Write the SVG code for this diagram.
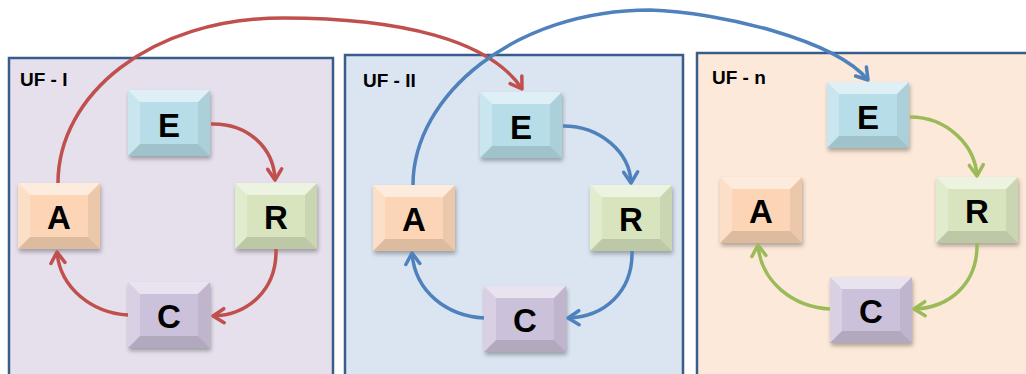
<svg xmlns="http://www.w3.org/2000/svg" xmlns:xlink="http://www.w3.org/1999/xlink" width="1026" height="374" viewBox="0 0 1026 374">
<style>
.panel{stroke:#385d8a;stroke-width:2.5}
.lbl{font-family:"Liberation Sans",Arial,sans-serif;font-weight:bold;font-size:19px;fill:#000}
.let{font-family:"Liberation Sans",Arial,sans-serif;font-weight:bold;font-size:33px;fill:#000;text-anchor:middle}
.con{fill:none;stroke-width:3.5}
.red{stroke:#c0504d}
.blue{stroke:#4f81bd}
.green{stroke:#9bbb59}
.nE{fill:#b7dee8}.nR{fill:#d7e4bd}.nC{fill:#ccc1da}.nA{fill:#fbd5b5}
</style>
<defs>
<filter id="sh" x="-20%" y="-20%" width="140%" height="150%"><feGaussianBlur stdDeviation="2"/></filter>
<g id="bevel">
<polygon points="0,0 82,0 70,12 12,12" fill="#fff" fill-opacity="0.55"/>
<polygon points="0,0 12,12 12,54 0,66" fill="#fff" fill-opacity="0.25"/>
<polygon points="82,0 82,66 70,54 70,12" fill="#000" fill-opacity="0.06"/>
<polygon points="0,66 12,54 70,54 82,66" fill="#000" fill-opacity="0.12"/>
</g>
<rect id="shadow" x="1" y="3" width="82" height="66" fill="#000" fill-opacity="0.3" filter="url(#sh)"/>
<marker id="mr" markerUnits="userSpaceOnUse" markerWidth="30" markerHeight="30" viewBox="-15 -15 30 30" refX="0" refY="0" orient="auto" overflow="visible"><path d="M-11,-7 L0,0 L-11,7" fill="none" stroke="#c0504d" stroke-width="3.5" stroke-linejoin="round" stroke-linecap="round"/></marker>
<marker id="mb" markerUnits="userSpaceOnUse" markerWidth="30" markerHeight="30" viewBox="-15 -15 30 30" refX="0" refY="0" orient="auto" overflow="visible"><path d="M-11,-7 L0,0 L-11,7" fill="none" stroke="#4f81bd" stroke-width="3.5" stroke-linejoin="round" stroke-linecap="round"/></marker>
<marker id="mg" markerUnits="userSpaceOnUse" markerWidth="30" markerHeight="30" viewBox="-15 -15 30 30" refX="0" refY="0" orient="auto" overflow="visible"><path d="M-11,-7 L0,0 L-11,7" fill="none" stroke="#9bbb59" stroke-width="3.5" stroke-linejoin="round" stroke-linecap="round"/></marker>
</defs>
<rect width="1026" height="374" fill="#fff"/>

<g id="panel-uf1"><rect class="panel" x="9" y="58" width="324" height="330" fill="#e5e0ec"/><text class="lbl" x="20" y="86">UF - I</text></g>
<g id="panel-uf2"><rect class="panel" x="345" y="55" width="338" height="330" fill="#dbe5f1"/><text class="lbl" x="363" y="87">UF - II</text></g>
<g id="panel-ufn"><rect class="panel" x="697" y="53" width="340" height="330" fill="#fde9d9"/><text class="lbl" x="712" y="84">UF - n</text></g>

<g id="uf1-E"><use href="#shadow" x="128" y="90"/><rect class="nE" x="128" y="90" width="82" height="66"/><use href="#bevel" x="128" y="90"/><text class="let" x="169" y="137">E</text></g>
<g id="uf1-R"><use href="#shadow" x="235" y="183"/><rect class="nR" x="235" y="183" width="82" height="66"/><use href="#bevel" x="235" y="183"/><text class="let" x="276" y="229">R</text></g>
<g id="uf1-C"><use href="#shadow" x="128" y="282"/><rect class="nC" x="128" y="282" width="82" height="66"/><use href="#bevel" x="128" y="282"/><text class="let" x="169" y="328">C</text></g>
<g id="uf1-A"><use href="#shadow" x="18" y="183"/><rect class="nA" x="18" y="183" width="82" height="66"/><use href="#bevel" x="18" y="183"/><text class="let" x="59" y="229">A</text></g>

<g id="uf2-E"><use href="#shadow" x="480" y="92"/><rect class="nE" x="480" y="92" width="82" height="66"/><use href="#bevel" x="480" y="92"/><text class="let" x="521" y="139">E</text></g>
<g id="uf2-R"><use href="#shadow" x="590" y="185"/><rect class="nR" x="590" y="185" width="82" height="66"/><use href="#bevel" x="590" y="185"/><text class="let" x="631" y="231">R</text></g>
<g id="uf2-C"><use href="#shadow" x="484" y="286"/><rect class="nC" x="484" y="286" width="82" height="66"/><use href="#bevel" x="484" y="286"/><text class="let" x="525" y="332">C</text></g>
<g id="uf2-A"><use href="#shadow" x="373" y="185"/><rect class="nA" x="373" y="185" width="82" height="66"/><use href="#bevel" x="373" y="185"/><text class="let" x="414" y="231">A</text></g>

<g id="ufn-E"><use href="#shadow" x="827" y="82"/><rect class="nE" x="827" y="82" width="82" height="66"/><use href="#bevel" x="827" y="82"/><text class="let" x="868" y="129">E</text></g>
<g id="ufn-R"><use href="#shadow" x="936" y="177"/><rect class="nR" x="936" y="177" width="82" height="66"/><use href="#bevel" x="936" y="177"/><text class="let" x="977" y="223">R</text></g>
<g id="ufn-C"><use href="#shadow" x="830" y="277"/><rect class="nC" x="830" y="277" width="82" height="66"/><use href="#bevel" x="830" y="277"/><text class="let" x="871" y="323">C</text></g>
<g id="ufn-A"><use href="#shadow" x="720" y="177"/><rect class="nA" x="720" y="177" width="82" height="66"/><use href="#bevel" x="720" y="177"/><text class="let" x="761" y="223">A</text></g>

<g id="connectors">
<path class="con red" marker-end="url(#mr)" d="M211,124 C248,123 274,148 275,180"/>
<path class="con red" marker-end="url(#mr)" d="M276,249 C277,290 248,315 213,316"/>
<path class="con red" marker-end="url(#mr)" d="M128,315 C92,313 60,288 57,252"/>
<path class="con red" marker-end="url(#mr)" d="M58,183 C58,95 150,18 283,18 C400,18 490,40 522,89"/>
<path class="con blue" marker-end="url(#mb)" d="M563,126 C600,126 630,152 631,183"/>
<path class="con blue" marker-end="url(#mb)" d="M632,251 C633,292 604,317 568,318"/>
<path class="con blue" marker-end="url(#mb)" d="M484,318 C447,316 415,292 412,253"/>
<path class="con blue" marker-end="url(#mb)" d="M413,185 C413,95 515,10 650,10 C720,12 835,40 868,80"/>
<path class="con green" marker-end="url(#mg)" d="M910,117 C947,117 975,145 977,176"/>
<path class="con green" marker-end="url(#mg)" d="M977,243 C978,285 948,308 914,309"/>
<path class="con green" marker-end="url(#mg)" d="M830,309 C793,307 761,282 758,245"/>
</g>
</svg>
